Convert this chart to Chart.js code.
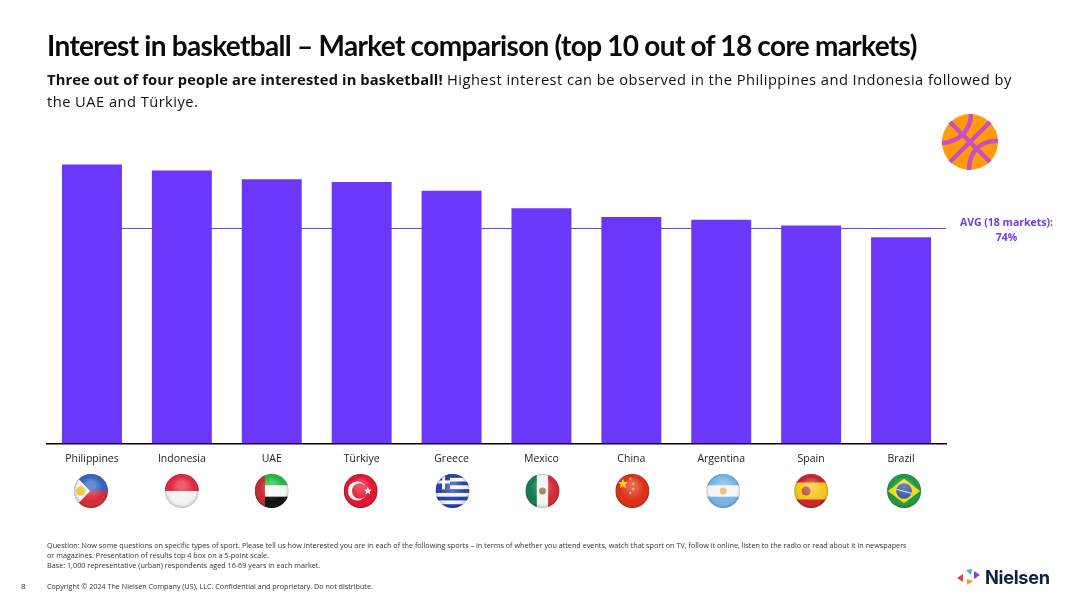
<!DOCTYPE html>
<html>
<head>
<meta charset="utf-8">
<script src="https://cdn.jsdelivr.net/npm/chart.js@4"></script>
<style>
    html, body { margin: 0; padding: 0; background: #fff; }
    body { position: relative; width: 1080px; height: 608px; overflow: hidden; font-family: "Open Sans", sans-serif; }
    #chartBox { position: absolute; left: 0; top: 0; width: 1080px; height: 608px; }
    .txt { position: absolute; white-space: nowrap; color: #111; }
    #title { left: 47px; top: 28px; font: 700 28px Lato, sans-serif; letter-spacing: -0.65px; word-spacing: -0.3px; color: #0a0a0a; }
    #sub { left: 47px; top: 69px; font-size: 14.7px; line-height: 21.5px; letter-spacing: 0.45px; }
    #sub b { letter-spacing: 0.13px; }
    #avg { left: 940px; top: 215px; width: 133px; text-align: center; font-size: 10.5px; line-height: 15px; font-weight: 700; color: #6d3fe0; }
    #note { left: 47px; top: 540px; font-size: 7.24px; line-height: 10.2px; color: #333; }
    #page { left: 21px; top: 580px; font-size: 8px; color: #333; }
    #copy { left: 47px; top: 581px; font-size: 7.2px; color: #333; }
    #logo { left: 985px; top: 566px; font: 700 18.2px Inter, sans-serif; color: #0c2340; letter-spacing: -0.3px; }
    svg { position: absolute; }
</style>
</head>
<body>
<div id="chartBox"><canvas id="interestChart"></canvas></div>

<div class="txt" id="title">Interest in basketball – Market comparison (top 10 out of 18 core markets)</div>
<div class="txt" id="sub"><b>Three out of four people are interested in basketball!</b> Highest interest can be observed in the Philippines and Indonesia followed by<br>the UAE and Türkiye.</div>
<div class="txt" id="avg">AVG (18 markets):<br>74%</div>
<div class="txt" id="note">Question: Now some questions on specific types of sport. Please tell us how interested you are in each of the following sports – in terms of whether you attend events, watch that sport on TV, follow it online, listen to the radio or read about it in newspapers<br>or magazines. Presentation of results top 4 box on a 5-point scale.<br>Base: 1,000 representative (urban) respondents aged 16-69 years in each market.</div>
<div class="txt" id="page">8</div>
<div class="txt" id="copy">Copyright © 2024 The Nielsen Company (US), LLC. Confidential and proprietary. Do not distribute.</div>
<div class="txt" id="logo">Nielsen</div>

<svg style="left:941px;top:113px" width="58" height="58" viewBox="0 0 58 58">
    <circle cx="29" cy="29" r="28" fill="#ff9a0a"/>
    <g fill="none" stroke="#c94fc4" stroke-width="4.5">
        <path d="M9 9 L49 49"/>
        <path d="M49 9 L9 49"/>
        <path d="M30 1 C30 17 18 29 1 30"/>
        <path d="M57 28 C40 27 28 38 28 57"/>
    </g>
</svg>
<svg style="left:957px;top:568px" width="27" height="18" viewBox="0 0 27 18">
    <path d="M0 10 L6 6 L6 14 Z" fill="#e2404f"/>
    <path d="M9 2 L15 1 L14 7 Z" fill="#3fb8bd"/>
    <path d="M10 11 L16 13 L10 17 Z" fill="#ff9a1f"/>
    <path d="M17 3 L23 7 L17 11 Z" fill="#7b3ff2"/>
</svg>

<script>
const categories = ['Philippines', 'Indonesia', 'UAE', 'Türkiye', 'Greece', 'Mexico', 'China', 'Argentina', 'Spain', 'Brazil'];
const interest = [96, 94, 91, 90, 87, 81, 78, 77, 75, 71];
const avgValue = 74;

// little helpers for the flag balls
function bands(ctx, x, y, r, colors) {
    const h = 2 * r / colors.length;
    colors.forEach((c, i) => {
        ctx.fillStyle = c;
        ctx.fillRect(x - r, y - r + i * h, 2 * r, h + 0.5);
    });
}

function vbands(ctx, x, y, r, colors) {
    const w = 2 * r / colors.length;
    colors.forEach((c, i) => {
        ctx.fillStyle = c;
        ctx.fillRect(x - r + i * w, y - r, w + 0.5, 2 * r);
    });
}

function star(ctx, x, y, s, color) {
    ctx.fillStyle = color;
    ctx.beginPath();
    for (let i = 0; i < 10; i++) {
        const a = -Math.PI / 2 + i * Math.PI / 5;
        const d = i % 2 ? s * 0.42 : s;
        ctx.lineTo(x + Math.cos(a) * d, y + Math.sin(a) * d);
    }
    ctx.fill();
}

function dot(ctx, x, y, r, color) {
    ctx.fillStyle = color;
    ctx.beginPath();
    ctx.arc(x, y, r, 0, Math.PI * 2);
    ctx.fill();
}

const flags = {
    Philippines(ctx, x, y, r) {
        bands(ctx, x, y, r, ['#2f5fc0', '#d42a35']);
        ctx.fillStyle = '#f4f4f4';
        ctx.beginPath();
        ctx.moveTo(x - r, y - r);
        ctx.lineTo(x - r * 0.05, y);
        ctx.lineTo(x - r, y + r);
        ctx.fill();
        dot(ctx, x - r * 0.6, y, r * 0.28, '#f4c93a');
    },
    Indonesia(ctx, x, y, r) {
        bands(ctx, x, y, r, ['#e0243a', '#f4f4f4']);
    },
    UAE(ctx, x, y, r) {
        bands(ctx, x, y, r, ['#1ab83c', '#f6f6f6', '#0c0c0c']);
        ctx.fillStyle = '#c9252e';
        ctx.fillRect(x - r, y - r, r * 0.6, 2 * r);
    },
    'Türkiye'(ctx, x, y, r) {
        bands(ctx, x, y, r, ['#e0122b']);
        dot(ctx, x - r * 0.2, y, r * 0.56, '#f8f8f8');
        dot(ctx, x - r * 0.06, y, r * 0.45, '#e0122b');
        star(ctx, x + r * 0.42, y, r * 0.24, '#f8f8f8');
    },
    Greece(ctx, x, y, r) {
        bands(ctx, x, y, r, ['#1c3fa8', '#f6f6f6', '#1c3fa8', '#f6f6f6', '#1c3fa8', '#f6f6f6', '#1c3fa8', '#f6f6f6', '#1c3fa8']);
        ctx.fillStyle = '#1c3fa8';
        ctx.fillRect(x - r, y - r, r * 0.85, r * 0.9);
        ctx.fillStyle = '#f6f6f6';
        ctx.fillRect(x - r, y - r * 0.62, r * 0.85, r * 0.18);
        ctx.fillRect(x - r * 0.62, y - r, r * 0.18, r * 0.9);
    },
    Mexico(ctx, x, y, r) {
        vbands(ctx, x, y, r, ['#0f7a4c', '#f4f4f4', '#d3262f']);
        dot(ctx, x, y, r * 0.2, '#8a6a3c');
    },
    China(ctx, x, y, r) {
        bands(ctx, x, y, r, ['#dd2c12']);
        star(ctx, x - r * 0.55, y - r * 0.42, r * 0.32, '#f6d517');
        star(ctx, x - r * 0.12, y - r * 0.72, r * 0.1, '#f6d517');
        star(ctx, x + r * 0.05, y - r * 0.42, r * 0.1, '#f6d517');
        star(ctx, x + r * 0.05, y - r * 0.12, r * 0.1, '#f6d517');
        star(ctx, x - r * 0.12, y + r * 0.12, r * 0.1, '#f6d517');
    },
    Argentina(ctx, x, y, r) {
        bands(ctx, x, y, r, ['#74b3e6', '#f6f6f6', '#74b3e6']);
        dot(ctx, x, y, r * 0.2, '#e6b84a');
    },
    Spain(ctx, x, y, r) {
        bands(ctx, x, y, r, ['#c9202c', '#f6c518', '#f6c518', '#c9202c']);
        dot(ctx, x - r * 0.3, y, r * 0.26, '#b5493a');
    },
    Brazil(ctx, x, y, r) {
        bands(ctx, x, y, r, ['#1a9a3c']);
        ctx.fillStyle = '#f3d81c';
        ctx.beginPath();
        ctx.moveTo(x - r * 0.95, y);
        ctx.lineTo(x, y - r * 0.72);
        ctx.lineTo(x + r * 0.95, y);
        ctx.lineTo(x, y + r * 0.72);
        ctx.fill();
        dot(ctx, x, y, r * 0.46, '#2b4d9e');
        ctx.strokeStyle = '#e8e8e8';
        ctx.lineWidth = 1;
        ctx.beginPath();
        ctx.moveTo(x - r * 0.44, y - r * 0.1);
        ctx.lineTo(x + r * 0.44, y + r * 0.14);
        ctx.stroke();
    }
};

// the balls in the source slide are placed by hand, a px or so off the tick
const flagNudge = [-1, 0, 0, -1, 1, 1, 1, 2, 0, 3];

const flagRow = {
    id: 'flagRow',
    afterDraw(chart) {
        const { ctx, scales: { x: xAxis } } = chart;
        const y = xAxis.bottom + 17;
        const r = 17;
        categories.forEach((name, i) => {
            const x = xAxis.getPixelForTick(i) + flagNudge[i];
            ctx.save();
            ctx.beginPath();
            ctx.arc(x, y, r, 0, Math.PI * 2);
            ctx.clip();
            flags[name](ctx, x, y, r);
            // shade so it reads as a ball
            const shade = ctx.createRadialGradient(x, y - r * 0.35, r * 0.2, x, y, r);
            shade.addColorStop(0, 'rgba(255,255,255,0.28)');
            shade.addColorStop(0.7, 'rgba(255,255,255,0)');
            shade.addColorStop(1, 'rgba(0,0,0,0.22)');
            ctx.fillStyle = shade;
            ctx.fillRect(x - r, y - r, 2 * r, 2 * r);
            ctx.restore();
        });
    }
};

// avg line sits behind the bars and runs out to the end of the axis
const avgLine = {
    id: 'avgLine',
    beforeDatasetsDraw(chart) {
        const { ctx, chartArea, scales: { x: xAxis, y: yAxis } } = chart;
        const py = Math.floor(yAxis.getPixelForValue(avgValue)) + 0.5;
        ctx.save();
        ctx.strokeStyle = '#7044e8';
        ctx.lineWidth = 1;
        ctx.beginPath();
        ctx.moveTo(xAxis.getPixelForTick(0), py);
        ctx.lineTo(chartArea.right, py);
        ctx.stroke();
        ctx.restore();
    }
};

new Chart(document.getElementById('interestChart'), {
    type: 'bar',
    data: {
        labels: categories,
        datasets: [{
            label: 'Interest in basketball',
            data: interest,
            backgroundColor: '#6b38fb',
            categoryPercentage: 1,
            barPercentage: 0.667
        }]
    },
    options: {
        responsive: true,
        maintainAspectRatio: false,
        animation: false,
        layout: { padding: { left: 47, right: 134, top: 153, bottom: 134 } },
        plugins: {
            legend: { display: false },
            tooltip: { enabled: false },
            title: { display: false }
        },
        scales: {
            x: {
                grid: { display: false, drawTicks: false },
                border: { color: '#000', width: 1.5 },
                ticks: {
                    color: '#222',
                    font: { family: '"Open Sans"', size: 10.5 },
                    padding: 9,
                    maxRotation: 0,
                    autoSkip: false
                }
            },
            y: {
                display: false,
                min: 0,
                max: 100
            }
        }
    },
    plugins: [avgLine, flagRow]
});
</script>
</body>
</html>
